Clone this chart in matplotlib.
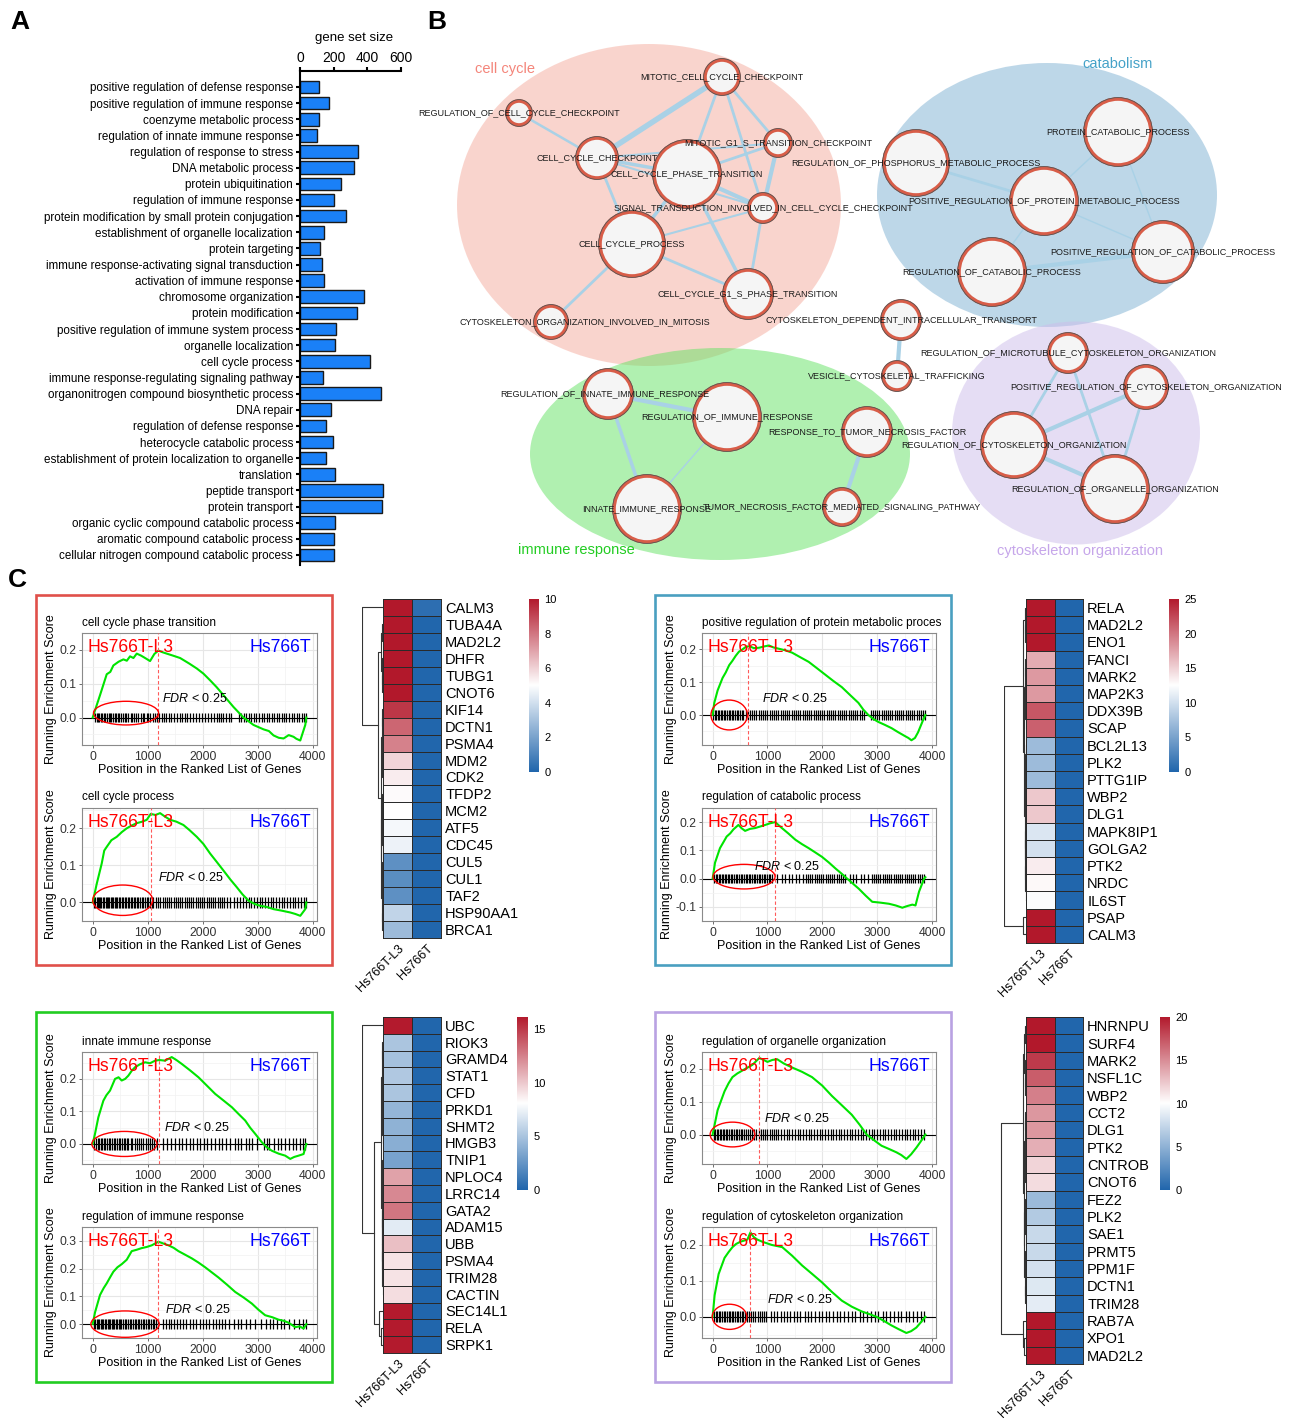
import numpy as np
import matplotlib
matplotlib.use('Agg')
import matplotlib.pyplot as plt
from matplotlib.patches import Ellipse, Circle, Rectangle
from matplotlib.colors import LinearSegmentedColormap

plt.rcParams['font.family'] = ['Liberation Sans', 'DejaVu Sans']
plt.rcParams['mathtext.fontset'] = 'custom'
plt.rcParams['mathtext.it'] = 'Liberation Sans:italic'
plt.rcParams['mathtext.rm'] = 'Liberation Sans'

# ---------------- data: panel A ----------------
terms = ['positive regulation of defense response', 'positive regulation of immune response',
         'coenzyme metabolic process', 'regulation of innate immune response',
         'regulation of response to stress', 'DNA metabolic process', 'protein ubiquitination',
         'regulation of immune response', 'protein modification by small protein conjugation',
         'establishment of organelle localization', 'protein targeting',
         'immune response-activating signal transduction', 'activation of immune response',
         'chromosome organization', 'protein modification',
         'positive regulation of immune system process', 'organelle localization',
         'cell cycle process', 'immune response-regulating signaling pathway',
         'organonitrogen compound biosynthetic process', 'DNA repair',
         'regulation of defense response', 'heterocycle catabolic process',
         'establishment of protein localization to organelle', 'translation',
         'peptide transport', 'protein transport', 'organic cyclic compound catabolic process',
         'aromatic compound catabolic process', 'cellular nitrogen compound catabolic process']
set_sizes = [115, 170, 111, 101, 347, 323, 246, 200, 271, 145, 117, 133, 141, 378, 339,
             212, 206, 414, 139, 481, 182, 154, 198, 156, 206, 493, 487, 206, 202, 200]

# ---------------- data: panel B (network) ----------------
node_names = {
    'mccc': 'MITOTIC_CELL_CYCLE_CHECKPOINT',
    'rccc': 'REGULATION_OF_CELL_CYCLE_CHECKPOINT',
    'ccc': 'CELL_CYCLE_CHECKPOINT',
    'ccpt': 'CELL_CYCLE_PHASE_TRANSITION',
    'mg1s': 'MITOTIC_G1_S_TRANSITION_CHECKPOINT',
    'sig': 'SIGNAL_TRANSDUCTION_INVOLVED_IN_CELL_CYCLE_CHECKPOINT',
    'ccp': 'CELL_CYCLE_PROCESS',
    'g1s': 'CELL_CYCLE_G1_S_PHASE_TRANSITION',
    'com': 'CYTOSKELETON_ORGANIZATION_INVOLVED_IN_MITOSIS',
    'rpm': 'REGULATION_OF_PHOSPHORUS_METABOLIC_PROCESS',
    'pcp': 'PROTEIN_CATABOLIC_PROCESS',
    'prpm': 'POSITIVE_REGULATION_OF_PROTEIN_METABOLIC_PROCESS',
    'prcp': 'POSITIVE_REGULATION_OF_CATABOLIC_PROCESS',
    'rcp': 'REGULATION_OF_CATABOLIC_PROCESS',
    'cdit': 'CYTOSKELETON_DEPENDENT_INTRACELLULAR_TRANSPORT',
    'vct': 'VESICLE_CYTOSKELETAL_TRAFFICKING',
    'rmco': 'REGULATION_OF_MICROTUBULE_CYTOSKELETON_ORGANIZATION',
    'prco': 'POSITIVE_REGULATION_OF_CYTOSKELETON_ORGANIZATION',
    'rco': 'REGULATION_OF_CYTOSKELETON_ORGANIZATION',
    'roo': 'REGULATION_OF_ORGANELLE_ORGANIZATION',
    'riir': 'REGULATION_OF_INNATE_IMMUNE_RESPONSE',
    'rir': 'REGULATION_OF_IMMUNE_RESPONSE',
    'rtnf': 'RESPONSE_TO_TUMOR_NECROSIS_FACTOR',
    'iir': 'INNATE_IMMUNE_RESPONSE',
    'tnf': 'TUMOR_NECROSIS_FACTOR_MEDIATED_SIGNALING_PATHWAY',
}
edges = [('mccc', 'ccc', 4.0), ('mccc', 'ccpt', 2.0), ('mccc', 'mg1s', 2.0), ('mccc', 'sig', 2.0),
         ('rccc', 'ccc', 1.8), ('ccc', 'ccpt', 2.5), ('ccc', 'mg1s', 1.5), ('ccc', 'sig', 1.5),
         ('ccc', 'ccp', 2.0), ('ccpt', 'mg1s', 2.0), ('ccpt', 'sig', 3.0), ('ccpt', 'ccp', 2.5),
         ('ccpt', 'g1s', 2.5), ('mg1s', 'sig', 3.0), ('sig', 'g1s', 2.0), ('sig', 'ccp', 1.5),
         ('ccp', 'g1s', 2.0), ('ccp', 'com', 2.0),
         ('rpm', 'prpm', 2.0), ('pcp', 'prpm', 1.0), ('pcp', 'prcp', 1.0), ('prpm', 'prcp', 1.0),
         ('prpm', 'rcp', 1.0), ('rcp', 'prcp', 3.0), ('cdit', 'vct', 3.0),
         ('riir', 'rir', 3.0), ('riir', 'iir', 2.5), ('rir', 'iir', 1.0), ('rtnf', 'tnf', 3.0),
         ('rmco', 'rco', 2.0), ('rmco', 'roo', 2.0), ('prco', 'rco', 3.0), ('prco', 'roo', 2.0),
         ('rco', 'roo', 3.0)]

# ---------------- data: panel C (GSEA curves) ----------------
gx1 = [0, 60, 133, 200, 255, 320, 376, 470, 558, 620, 679, 740, 800, 880, 952, 1042, 1120, 1194,
       1270, 1345, 1460, 1588, 1750, 1891, 2010, 2133, 2250, 2376, 2558, 2739, 2921, 3103, 3200,
       3285, 3380, 3467, 3560, 3648, 3700, 3770, 3861, 3880]
gy1 = [0.0, 0.03, 0.066, 0.1, 0.128, 0.135, 0.154, 0.165, 0.172, 0.168, 0.181, 0.176, 0.189,
       0.183, 0.176, 0.167, 0.188, 0.198, 0.193, 0.189, 0.183, 0.176, 0.16, 0.145, 0.13, 0.11,
       0.09, 0.066, 0.031, 0.0, -0.022, -0.035, -0.04, -0.053, -0.06, -0.062, -0.052, -0.057,
       -0.063, -0.068, -0.022, 0.0]
gx2 = [0, 73, 164, 210, 255, 340, 436, 530, 618, 700, 800, 900, 982, 1055, 1140, 1224, 1310,
       1406, 1520, 1648, 1760, 1891, 2010, 2133, 2250, 2376, 2500, 2618, 2720, 2830, 2940, 3042,
       3160, 3285, 3430, 3588, 3680, 3770, 3861, 3880]
gy2 = [0, 0.05, 0.105, 0.14, 0.15, 0.168, 0.177, 0.19, 0.2, 0.207, 0.214, 0.218, 0.223, 0.239,
       0.236, 0.241, 0.232, 0.223, 0.218, 0.209, 0.195, 0.177, 0.158, 0.132, 0.11, 0.086, 0.062,
       0.041, 0.022, 0.005, -0.004, -0.009, -0.012, -0.018, -0.022, -0.027, -0.031, -0.036,
       -0.018, 0]
gx3 = [0, 30, 91, 181, 240, 302, 360, 423, 480, 544, 600, 665, 750, 846, 940, 1027, 1110, 1208,
       1330, 1450, 1600, 1752, 1900, 2054, 2200, 2356, 2500, 2659, 2750, 2840, 2930, 3021, 3140,
       3263, 3380, 3505, 3570, 3626, 3690, 3746, 3837, 3880]
gy3 = [0, 0.037, 0.075, 0.113, 0.13, 0.152, 0.165, 0.181, 0.193, 0.2, 0.207, 0.21, 0.204, 0.205,
       0.209, 0.212, 0.206, 0.202, 0.197, 0.19, 0.176, 0.162, 0.143, 0.123, 0.104, 0.085, 0.062,
       0.037, 0.016, 0.0, -0.012, -0.021, -0.03, -0.04, -0.052, -0.064, -0.07, -0.077, -0.07,
       -0.053, -0.016, 0]
gx4 = [0, 43, 134, 200, 256, 320, 378, 470, 530, 592, 680, 775, 860, 958, 1050, 1141, 1263,
       1380, 1507, 1630, 1751, 1870, 1995, 2120, 2240, 2350, 2454, 2560, 2667, 2790, 2911, 3060,
       3216, 3340, 3460, 3550, 3643, 3700, 3765, 3857, 3880]
gy4 = [0, 0.056, 0.108, 0.13, 0.149, 0.16, 0.174, 0.19, 0.178, 0.169, 0.176, 0.179, 0.184, 0.19,
       0.196, 0.2, 0.179, 0.16, 0.138, 0.122, 0.108, 0.093, 0.077, 0.057, 0.036, 0.018, 0, -0.018,
       -0.036, -0.06, -0.082, -0.085, -0.089, -0.095, -0.103, -0.097, -0.092, -0.095, -0.046, 0,
       0.005]
gx5 = [0, 42, 103, 194, 250, 315, 406, 470, 527, 590, 648, 710, 770, 860, 952, 1040, 1133, 1212,
       1315, 1436, 1520, 1618, 1770, 1921, 2070, 2224, 2380, 2527, 2650, 2770, 2860, 2952, 3073,
       3160, 3255, 3380, 3497, 3588, 3660, 3739, 3830, 3880]
gy5 = [0, 0.031, 0.082, 0.133, 0.15, 0.164, 0.2, 0.205, 0.195, 0.2, 0.21, 0.225, 0.236, 0.245,
       0.251, 0.248, 0.256, 0.258, 0.256, 0.267, 0.258, 0.246, 0.226, 0.205, 0.18, 0.154, 0.133,
       0.113, 0.092, 0.072, 0.05, 0.031, 0.005, -0.01, -0.021, -0.03, -0.036, -0.046, -0.04,
       -0.036, -0.031, 0]
gx6 = [0, 42, 133, 200, 255, 320, 376, 450, 527, 618, 709, 800, 891, 980, 1073, 1194, 1290,
       1376, 1470, 1558, 1680, 1800, 1920, 2042, 2160, 2285, 2440, 2588, 2740, 2891, 3010, 3133,
       3260, 3376, 3470, 3558, 3679, 3760, 3830, 3880]
gy6 = [0, 0.042, 0.105, 0.13, 0.147, 0.17, 0.189, 0.205, 0.216, 0.232, 0.263, 0.268, 0.274,
       0.278, 0.284, 0.297, 0.29, 0.284, 0.275, 0.263, 0.25, 0.237, 0.222, 0.205, 0.187, 0.168,
       0.142, 0.116, 0.096, 0.074, 0.052, 0.032, 0.025, 0.016, 0.012, 0.005, -0.011, -0.008,
       -0.016, 0]
gx7 = [0, 91, 217, 290, 362, 450, 544, 640, 725, 852, 930, 1000, 1090, 1178, 1300, 1450, 1630,
       1812, 2000, 2175, 2360, 2537, 2680, 2809, 2950, 3081, 3220, 3353, 3440, 3534, 3620, 3715,
       3800, 3880]
gy7 = [0, 0.074, 0.131, 0.155, 0.174, 0.185, 0.194, 0.203, 0.211, 0.232, 0.226, 0.22, 0.226,
       0.228, 0.215, 0.203, 0.19, 0.174, 0.148, 0.117, 0.088, 0.06, 0.03, 0.0, -0.018, -0.034,
       -0.044, -0.054, -0.062, -0.074, -0.06, -0.04, -0.02, 0]
gx8 = [0, 36, 109, 217, 290, 362, 430, 507, 570, 634, 689, 750, 815, 906, 1080, 1269, 1450, 1631,
       1810, 1994, 2170, 2356, 2540, 2718, 2850, 2990, 3130, 3262, 3400, 3534, 3620, 3715, 3800,
       3880]
gy8 = [0, 0.06, 0.119, 0.164, 0.18, 0.194, 0.203, 0.209, 0.212, 0.215, 0.235, 0.222, 0.215,
       0.209, 0.2, 0.194, 0.17, 0.143, 0.12, 0.096, 0.07, 0.045, 0.028, 0.015, 0.008, 0, -0.012,
       -0.024, -0.035, -0.045, -0.04, -0.03, -0.015, 0]

# gene hit positions (barcode)
h1 = [40, 70, 95, 120, 150, 175, 205, 230, 260, 290, 315, 340, 370, 400, 430, 455, 480, 520, 545,
      580, 610, 650, 690, 720, 750, 790, 830, 870, 905, 940, 980, 1010, 1050, 1090, 1130, 1170,
      1210, 1260, 1300, 1340, 1380, 1430, 1480, 1530, 1580, 1620, 1670, 1720, 1770, 1830, 1880,
      1930, 1990, 2040, 2100, 2150, 2200, 2250, 2290, 2330, 2370, 2420, 2470, 2520, 2660, 2700,
      2740, 2790, 2830, 2880, 2930, 2970, 3020, 3070, 3110, 3160, 3200, 3250, 3290, 3340, 3380,
      3430, 3480, 3520, 3570, 3620, 3660, 3710, 3750, 3800, 3840, 3870]
h2 = [20, 45, 70, 90, 115, 140, 160, 185, 210, 235, 255, 280, 305, 330, 350, 375, 400, 425, 450,
      470, 500, 525, 550, 580, 610, 635, 660, 690, 720, 745, 770, 800, 830, 860, 890, 920, 950,
      980, 1010, 1040, 1070, 1100, 1150, 1190, 1230, 1270, 1310, 1350, 1390, 1430, 1470, 1510,
      1550, 1590, 1630, 1670, 1710, 1750, 1790, 1830, 1870, 1910, 1950, 1990, 2030, 2070, 2110,
      2150, 2190, 2230, 2270, 2310, 2350, 2390, 2440, 2500, 2560, 2620, 2680, 2730, 2780, 2830,
      2880, 2930, 2980, 3030, 3080, 3130, 3180, 3230, 3280, 3330, 3380, 3430, 3480, 3530, 3580,
      3630, 3680, 3730, 3780, 3830, 3870]
h3 = [15, 40, 65, 90, 120, 150, 175, 200, 230, 260, 290, 320, 350, 380, 410, 440, 470, 500, 530,
      560, 600, 640, 680, 720, 760, 800, 840, 880, 920, 960, 1000, 1040, 1080, 1120, 1160, 1200,
      1240, 1280, 1320, 1360, 1400, 1440, 1480, 1520, 1560, 1600, 1640, 1680, 1720, 1760, 1800,
      1840, 1880, 1920, 1960, 2000, 2040, 2080, 2120, 2160, 2200, 2240, 2280, 2320, 2360, 2400,
      2440, 2480, 2520, 2560, 2600, 2640, 2680, 2720, 2760, 2880, 2920, 2960, 3000, 3040, 3080,
      3120, 3160, 3200, 3240, 3280, 3320, 3360, 3400, 3440, 3480, 3520, 3560, 3600, 3640, 3680,
      3720, 3760, 3800, 3840, 3870]
h4 = [30, 60, 85, 110, 140, 165, 190, 220, 250, 275, 300, 330, 360, 390, 420, 450, 480, 510, 540,
      570, 600, 630, 660, 690, 720, 750, 780, 810, 840, 870, 900, 930, 960, 990, 1020, 1050, 1080,
      1180, 1260, 1320, 1390, 1440, 1520, 1580, 1640, 1700, 1740, 1780, 1820, 1860, 1900, 1940,
      1980, 2020, 2060, 2100, 2140, 2180, 2220, 2260, 2300, 2340, 2380, 2420, 2500, 2560, 2620,
      2700, 2760, 2840, 2900, 2940, 2980, 3020, 3060, 3100, 3140, 3180, 3220, 3260, 3300, 3340,
      3380, 3420, 3460, 3500, 3540, 3580, 3620, 3660, 3700, 3740, 3780, 3820, 3860]
h5 = [30, 60, 90, 115, 145, 170, 200, 230, 260, 290, 320, 350, 380, 410, 440, 470, 500, 530, 560,
      590, 620, 650, 690, 720, 760, 800, 840, 880, 920, 960, 1000, 1040, 1080, 1120, 1160, 1280,
      1350, 1420, 1490, 1560, 1620, 1700, 1760, 1830, 1900, 1950, 2020, 2080, 2150, 2230, 2300,
      2340, 2420, 2500, 2580, 2640, 2700, 2780, 2830, 2900, 2980, 3120, 3160, 3200, 3300, 3360,
      3420, 3500, 3560, 3640, 3700, 3760, 3820, 3860]
h6 = [20, 45, 70, 95, 120, 145, 170, 195, 220, 245, 270, 295, 320, 345, 370, 395, 420, 445, 470,
      495, 520, 550, 580, 610, 640, 670, 700, 730, 760, 790, 820, 850, 880, 910, 940, 970, 1000,
      1030, 1060, 1090, 1120, 1150, 1180, 1280, 1330, 1380, 1430, 1480, 1530, 1580, 1640, 1700,
      1760, 1820, 1880, 1940, 2000, 2060, 2120, 2180, 2240, 2290, 2340, 2400, 2480, 2560, 2640,
      2700, 2780, 2860, 2950, 3050, 3150, 3220, 3280, 3350, 3420, 3480, 3560, 3650, 3740, 3820,
      3870]
h7 = [20, 50, 75, 100, 130, 160, 185, 210, 240, 270, 300, 330, 360, 390, 420, 450, 480, 510, 540,
      570, 600, 640, 680, 720, 760, 800, 840, 880, 920, 960, 1000, 1040, 1080, 1120, 1160, 1200,
      1250, 1300, 1350, 1400, 1450, 1500, 1550, 1600, 1650, 1700, 1750, 1800, 1850, 1900, 1950,
      2000, 2050, 2100, 2150, 2200, 2250, 2300, 2350, 2400, 2450, 2500, 2550, 2600, 2650, 2700,
      2750, 2800, 2850, 2900, 2950, 3000, 3050, 3100, 3150, 3200, 3250, 3300, 3350, 3400, 3450,
      3500, 3550, 3600, 3650, 3700, 3750, 3800, 3850]
h8 = [25, 55, 80, 110, 140, 170, 200, 230, 260, 290, 320, 350, 380, 410, 440, 470, 500, 530, 560,
      590, 620, 660, 700, 740, 780, 820, 860, 900, 940, 980, 1060, 1120, 1180, 1240, 1300, 1360,
      1420, 1480, 1540, 1600, 1680, 1740, 1800, 1870, 1940, 2000, 2060, 2120, 2200, 2260, 2320,
      2400, 2460, 2540, 2600, 2680, 2740, 2820, 2880, 2960, 3020, 3100, 3160, 3240, 3300, 3380,
      3440, 3520, 3580, 3660, 3720, 3800, 3860]

gsea_titles = ['cell cycle phase transition', 'cell cycle process',
               'positive regulation of protein metabolic proces', 'regulation of catabolic process',
               'innate immune response', 'regulation of immune response',
               'regulation of organelle organization', 'regulation of cytoskeleton organization']
peak_pos = [1194, 1055, 646, 1141, 1212, 1194, 852, 689]

# ---------------- data: heatmaps ----------------
genes1 = ['CALM3', 'TUBA4A', 'MAD2L2', 'DHFR', 'TUBG1', 'CNOT6', 'KIF14', 'DCTN1', 'PSMA4', 'MDM2',
          'CDK2', 'TFDP2', 'MCM2', 'ATF5', 'CDC45', 'CUL5', 'CUL1', 'TAF2', 'HSP90AA1', 'BRCA1']
l3_1 = [10, 10, 10, 10, 10, 10, 9.3, 8.3, 7.7, 5.9, 5.4, 5.1, 5.0, 4.8, 4.6, 1.4, 1.3, 1.4, 3.6, 2.8]
wt_1 = [0.3, 0, 0, 0, 0, 0, 0, 0, 0, 0, 0, 0, 0, 0, 0, 0, 0, 0, 0, 0]
genes2 = ['RELA', 'MAD2L2', 'ENO1', 'FANCI', 'MARK2', 'MAP2K3', 'DDX39B', 'SCAP', 'BCL2L13', 'PLK2',
          'PTTG1IP', 'WBP2', 'DLG1', 'MAPK8IP1', 'GOLGA2', 'PTK2', 'NRDC', 'IL6ST', 'PSAP', 'CALM3']
l3_2 = [25, 25, 25, 17, 18, 18, 21.5, 21, 7, 7, 7, 15.5, 15.5, 10.5, 10, 13.5, 12.8, 12.3, 25, 25]
wt_2 = [0, 0, 0, 0, 0, 0, 0, 0, 0, 0, 0, 0, 0, 0, 0, 0, 0, 0, 0, 0]
genes3 = ['UBC', 'RIOK3', 'GRAMD4', 'STAT1', 'CFD', 'PRKD1', 'SHMT2', 'HMGB3', 'TNIP1', 'NPLOC4',
          'LRRC14', 'GATA2', 'ADAM15', 'UBB', 'PSMA4', 'TRIM28', 'CACTIN', 'SEC14L1', 'RELA', 'SRPK1']
l3_3 = [16, 5.0, 4.8, 5.2, 5.0, 4.2, 4.0, 3.8, 3.2, 11.3, 12.2, 12.8, 7.0, 10.3, 9.0, 9.0, 9.2,
        16, 16, 16]
wt_3 = [0, 0, 0, 0, 0, 0, 0, 0, 0, 0, 0, 0, 0, 0, 0, 0, 0, 0, 0, 0]
genes4 = ['HNRNPU', 'SURF4', 'MARK2', 'NSFL1C', 'WBP2', 'CCT2', 'DLG1', 'PTK2', 'CNTROB', 'CNOT6',
          'FEZ2', 'PLK2', 'SAE1', 'PRMT5', 'PPM1F', 'DCTN1', 'TRIM28', 'RAB7A', 'XPO1', 'MAD2L2']
l3_4 = [20, 20, 18.5, 17, 15.5, 14.5, 14.5, 13.5, 11.8, 11.5, 5.5, 6.5, 7.5, 7.5, 8.0, 8.5, 8.8,
        20, 20, 20]
wt_4 = [0, 0, 0, 0, 0, 0, 0, 0, 0, 0, 0, 0, 0, 0, 0, 0, 0, 0, 0, 0]

# dendrograms: (height, left, right), leaves are row indices
tree1 = (1.0, 0, (0.22, (0.12, (0.05, 1, 2), (0.06, 3, (0.03, 4, 5))),
                  (0.1, (0.06, (0.04, 6, 7), (0.05, 8, (0.03, 9, 10))),
                   (0.08, (0.05, (0.03, 11, 12), (0.04, 13, 14)),
                    (0.06, (0.04, 15, (0.02, 16, 17)), (0.03, 18, 19))))))
tree2 = (1.0, (0.12, (0.06, 0, (0.04, 1, 2)),
               (0.08, (0.05, (0.03, 3, 4), (0.04, 5, (0.02, 6, 7))),
                (0.06, (0.04, (0.02, 8, 9), (0.03, 10, (0.02, 11, 12))),
                 (0.05, (0.03, 13, 14), (0.04, 15, (0.02, 16, 17)))))),
         (0.15, 18, 19))
tree3 = (1.0, 0, (0.45, (0.1, (0.06, (0.04, 1, 2), (0.05, (0.03, 3, 4), (0.04, 5, (0.02, 6, 7)))),
                         (0.07, (0.05, 8, (0.03, 9, 10)),
                          (0.06, (0.04, 11, 12), (0.05, (0.03, 13, 14), (0.02, 15, 16))))),
                  (0.2, 17, (0.1, 18, 19))))
tree4 = (1.0, (0.1, (0.06, (0.04, 0, 1), (0.05, 2, (0.03, 3, 4))),
               (0.08, (0.05, (0.03, 5, 6), (0.04, 7, (0.02, 8, 9))),
                (0.06, (0.04, 10, (0.02, 11, 12)), (0.05, (0.03, 13, 14), (0.02, 15, 16))))),
         (0.12, 17, (0.06, 18, 19)))

# ---------------- figure ----------------
W, H = 1289, 1418
fig = plt.figure(figsize=(W / 100, H / 100), dpi=100)


def px_axes(x0, y0, x1, y1):
    return fig.add_axes([x0 / W, 1 - y1 / H, (x1 - x0) / W, (y1 - y0) / H])


def ftext(x, y, s, **kw):
    fig.text(x / W, 1 - y / H, s, **kw)


ftext(10, 22, 'A', fontsize=19, fontweight='bold', va='center')
ftext(427, 22, 'B', fontsize=19, fontweight='bold', va='center')
ftext(8, 580, 'C', fontsize=19, fontweight='bold', va='center')

# Panel A
ax = px_axes(300, 71, 401, 565)
yy = np.arange(len(terms))
ax.barh(yy, set_sizes, height=0.78, color='#1a80f7', edgecolor='#1a1a1a', linewidth=1)
ax.set_ylim(29.62, -0.99)
ax.set_xlim(0, 600)
ax.xaxis.tick_top()
ax.set_xticks([0, 200, 400, 600])
ax.set_yticks(yy)
ax.set_yticklabels(terms, fontsize=8.4)
ax.tick_params(axis='y', length=3, width=1.5, pad=2)
ax.tick_params(axis='x', length=3, width=1.5, labelsize=10, pad=1)
for s in ['right', 'bottom']:
    ax.spines[s].set_visible(False)
for s in ['left', 'top']:
    ax.spines[s].set_linewidth(1.5)
ftext(354, 38, 'gene set size', fontsize=9.5, ha='center', va='center')

# Panel B network
layout = {'mccc': (722, 77, 17), 'rccc': (519, 113, 12), 'ccc': (597, 158, 20),
          'ccpt': (687, 174, 33), 'mg1s': (778, 143, 13), 'sig': (763, 208, 14),
          'ccp': (632, 244, 32), 'g1s': (748, 294, 24), 'com': (551, 322, 16),
          'rpm': (916, 163, 32), 'pcp': (1118, 132, 33), 'prpm': (1044, 201, 33),
          'prcp': (1163, 252, 30), 'rcp': (992, 272, 33), 'cdit': (901, 320, 19),
          'vct': (897, 376, 14), 'rmco': (1068, 353, 19), 'prco': (1146, 387, 21),
          'rco': (1014, 445, 32), 'roo': (1115, 489, 33), 'riir': (608, 394, 24),
          'rir': (727, 417, 33), 'rtnf': (867, 432, 24), 'iir': (647, 509, 33),
          'tnf': (842, 507, 18)}
label_x = {'com': 585, 'riir': 605}

axn = px_axes(410, 40, 1289, 575)
axn.set_xlim(410, 1289)
axn.set_ylim(575, 40)
axn.axis('off')
axn.set_facecolor('none')
clusters = [((649, 205), 384, 322, '#f5ab9d'), ((1047, 195), 340, 264, '#7db0d2'),
            ((720, 454), 380, 212, '#62e262'), ((1076, 433), 248, 223, '#cdbdeb')]
for (c, w, h, col) in clusters:
    axn.add_patch(Ellipse(c, w, h, facecolor=col, edgecolor='none', alpha=0.5, zorder=1))
axn.text(505, 69, 'cell cycle', color='#f4857a', fontsize=10.5, ha='center', va='center')
axn.text(1118, 64, 'catabolism', color='#45a2c8', fontsize=10.5, ha='center', va='center')
axn.text(576, 550, 'immune response', color='#22cc22', fontsize=10.5, ha='center', va='center')
axn.text(1080, 551, 'cytoskeleton organization', color='#c6a6ea', fontsize=10.5,
         ha='center', va='center')
for a, b, w in edges:
    xa, ya, _ = layout[a]
    xb, yb, _ = layout[b]
    axn.plot([xa, xb], [ya, yb], color='#a9d1e6', lw=w, zorder=2, solid_capstyle='butt')
for k, (x, y, r) in layout.items():
    axn.add_patch(Circle((x, y), r, facecolor='#f5f5f5', edgecolor='#d85d48', lw=2.6, zorder=3))
    axn.add_patch(Circle((x, y), r + 1.4, fill=False, edgecolor='#555555', lw=0.6, zorder=3))
for k, (x, y, r) in layout.items():
    axn.text(label_x.get(k, x), y, node_names[k], fontsize=6.5, ha='center', va='center',
             color='#1a1a1a', zorder=4)

# Panel C frames
frames = [((36, 595, 332, 965), '#e0504a'), ((655, 595, 951, 965), '#4a9fc0'),
          ((36, 1012, 332, 1382), '#22cc22'), ((655, 1012, 951, 1382), '#b9a2e2')]
for (x0, y0, x1, y1), col in frames:
    fig.patches.append(Rectangle((x0 / W, 1 - y1 / H), (x1 - x0) / W, (y1 - y0) / H,
                                 transform=fig.transFigure, fill=False, edgecolor=col, lw=1.9))


def gsea(rect, title, xs, ys, hits, peak, ell, fdr, yticks):
    ax = px_axes(*rect)
    ax.set_xlim(-194, 4074)
    lo, hi = min(ys), max(ys)
    pad = 0.05 * (hi - lo)
    ax.set_ylim(lo - pad, hi + pad)
    ax.set_xticks([0, 1000, 2000, 3000, 4000])
    ax.set_xticks([500, 1500, 2500, 3500], minor=True)
    ax.set_yticks(yticks)
    ax.set_yticklabels(['%.1f' % t for t in yticks])
    step = yticks[1] - yticks[0]
    ax.set_yticks([t + step / 2 for t in yticks] + [yticks[0] - step / 2], minor=True)
    ax.grid(which='major', color='#e6e6e6', lw=0.8)
    ax.grid(which='minor', color='#f2f2f2', lw=0.5)
    ax.set_axisbelow(True)
    ax.tick_params(which='minor', length=0)
    ax.tick_params(which='major', length=2.5, width=0.6, color='#555555', labelsize=8.8,
                   pad=1.5, labelcolor='#333333')
    for s in ax.spines.values():
        s.set_color('#8a8a8a')
        s.set_linewidth(0.8)
    ax.axhline(0, color='black', lw=0.8, zorder=2)
    hh = 0.055 * (hi - lo)
    ax.vlines(hits, -hh, hh, color='black', lw=0.9, zorder=2)
    ax.plot(xs, ys, color='#00e400', lw=1.5, zorder=3)
    ax.axvline(peak, color='#ff5a5a', ls=(0, (3, 2)), lw=0.8, zorder=3)
    ax.add_patch(Ellipse((ell[0], ell[1]), ell[2], ell[3], fill=False, edgecolor='red',
                         lw=1.0, zorder=4))
    ax.text(fdr[0], fdr[1], r'$\it{FDR}$ < 0.25', fontsize=9, va='center', ha='left', zorder=4)
    ax.text(0.025, 0.95, 'Hs766T-L3', color='#ff0000', fontsize=12.7, transform=ax.transAxes,
            va='top', ha='left', zorder=5)
    ax.text(0.975, 0.95, 'Hs766T', color='#0000ff', fontsize=12.7, transform=ax.transAxes,
            va='top', ha='right', zorder=5)
    ax.text(0.0, 1.04, title, fontsize=8.5, transform=ax.transAxes, va='bottom', ha='left')
    ax.set_xlabel('Position in the Ranked List of Genes', fontsize=9, labelpad=1)
    ax.set_ylabel('Running Enrichment Score', fontsize=9, labelpad=2)
    return ax


gsea((82, 633, 317, 745), gsea_titles[0], gx1, gy1, h1, peak_pos[0],
     (606, 0.013, 1182, 0.07), (1255, 0.055), [0, 0.1, 0.2])
gsea((82, 808, 317, 921), gsea_titles[1], gx2, gy2, h2, peak_pos[1],
     (545, 0.006, 1090, 0.082), (1194, 0.068), [0, 0.1, 0.2])
gsea((702, 633, 936, 745), gsea_titles[2], gx3, gy3, h3, peak_pos[2],
     (302, 0.0, 665, 0.091), (906, 0.05), [0, 0.1, 0.2])
gsea((702, 808, 936, 921), gsea_titles[3], gx4, gy4, h4, peak_pos[3],
     (573, 0.007, 1130, 0.087), (763, 0.043), [-0.1, 0, 0.1, 0.2])
gsea((82, 1052, 317, 1164), gsea_titles[4], gx5, gy5, h5, peak_pos[4],
     (576, 0.0, 1182, 0.077), (1303, 0.051), [0, 0.1, 0.2])
gsea((82, 1227, 317, 1338), gsea_titles[5], gx6, gy6, h6, peak_pos[5],
     (588, 0.0, 1242, 0.095), (1315, 0.053), [0, 0.1, 0.2, 0.3])
gsea((702, 1052, 936, 1164), gsea_titles[6], gx7, gy7, h7, peak_pos[6],
     (362, 0.0, 815, 0.075), (942, 0.05), [0, 0.1, 0.2])
gsea((702, 1227, 936, 1338), gsea_titles[7], gx8, gy8, h8, peak_pos[7],
     (308, 0.0, 630, 0.07), (997, 0.048), [0, 0.1, 0.2])

# heatmaps
cmap = LinearSegmentedColormap.from_list('bwr2', ['#2166ac', '#ffffff', '#b2182b'])


def draw_tree(ax, node):
    if isinstance(node, int):
        return node + 0.5, 0.0
    h, a, b = node
    ya, ha = draw_tree(ax, a)
    yb, hb = draw_tree(ax, b)
    ax.plot([ha, h, h, hb], [ya, ya, yb, yb], color='#333333', lw=0.8)
    return (ya + yb) / 2, h


def heatmap(rect, cbrect, dx0, genes, l3, wt, vmax, ticks, tree):
    n = len(genes)
    ax = px_axes(*rect)
    data = np.column_stack([l3, wt])
    ax.pcolormesh(data, cmap=cmap, vmin=0, vmax=vmax, edgecolors='#2a2a2a', linewidth=0.7)
    ax.set_xlim(0, 2)
    ax.set_ylim(n, 0)
    ax.yaxis.tick_right()
    ax.set_yticks(np.arange(n) + 0.5)
    ax.set_yticklabels(genes, fontsize=10.5)
    ax.set_xticks([0.5, 1.5])
    ax.set_xticklabels(['Hs766T-L3', 'Hs766T'], rotation=45, ha='right',
                       rotation_mode='anchor', fontsize=9)
    ax.tick_params(length=0, pad=3)
    for s in ax.spines.values():
        s.set_color('#2a2a2a')
        s.set_linewidth(0.7)
    dax = px_axes(dx0, rect[1], rect[0], rect[3])
    dax.set_xlim(1.02, 0)
    dax.set_ylim(n, 0)
    dax.axis('off')
    draw_tree(dax, tree)
    cax = px_axes(*cbrect)
    grad = np.linspace(0, vmax, 256)[:, None]
    cax.imshow(grad, cmap=cmap, vmin=0, vmax=vmax, origin='lower', aspect='auto',
               extent=[0, 1, 0, vmax])
    cax.set_xticks([])
    cax.yaxis.tick_right()
    cax.set_yticks(ticks)
    cax.tick_params(length=0, labelsize=8, pad=4)
    for s in cax.spines.values():
        s.set_visible(False)


heatmap((383, 599, 441, 938), (529, 599, 539, 772), 362, genes1, l3_1, wt_1, 10,
        [0, 2, 4, 6, 8, 10], tree1)
heatmap((1026, 599, 1083, 943), (1169, 599, 1179, 772), 1004, genes2, l3_2, wt_2, 25,
        [0, 5, 10, 15, 20, 25], tree2)
heatmap((383, 1017, 441, 1353), (517, 1017, 528, 1190), 362, genes3, l3_3, wt_3, 16.1,
        [0, 5, 10, 15], tree3)
heatmap((1026, 1017, 1083, 1364), (1160, 1017, 1170, 1190), 1000, genes4, l3_4, wt_4, 20,
        [0, 5, 10, 15, 20], tree4)

fig.savefig('out.png', dpi=100, facecolor='white')
